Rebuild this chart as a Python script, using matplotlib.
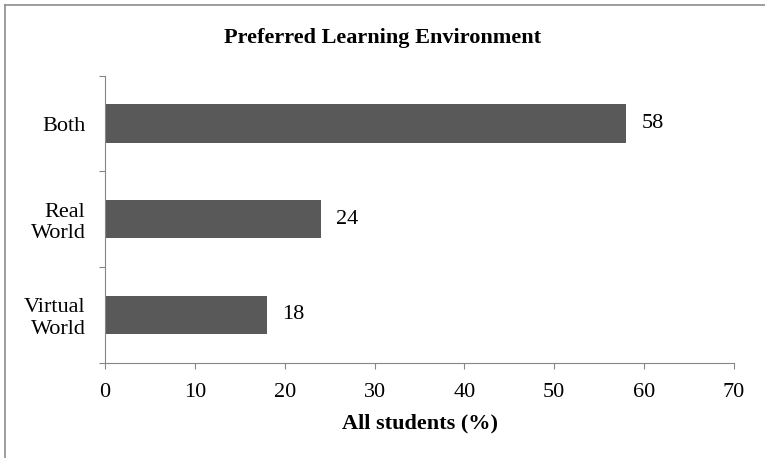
import matplotlib
matplotlib.use("Agg")
import matplotlib.pyplot as plt
from matplotlib.lines import Line2D

CATEGORIES = ["Virtual\nWorld", "Real\nWorld", "Both"]
VALUES = [18, 24, 58]
X_TICKS = [0, 10, 20, 30, 40, 50, 60, 70]

BAR_COLOR = "#595959"
AXIS_COLOR = "#868686"
W, H = 765, 458

plt.rcParams.update({
    "font.family": ["Liberation Serif", "DejaVu Serif"],
    "font.size": 16,
})

fig = plt.figure(figsize=(W / 100, H / 100), dpi=100, facecolor="white")
ax = fig.add_axes([0.1373, 0.2081, 0.8222, 0.6266])

positions = list(range(len(CATEGORIES)))
ax.barh(positions, VALUES, height=0.4, color=BAR_COLOR)
for pos, val in zip(positions, VALUES):
    ax.annotate(str(val), (val, pos), xytext=(11, 0), textcoords="offset points",
                ha="left", va="center", fontsize=16)

ax.set_xlim(0, 70)
ax.set_ylim(-0.5, len(CATEGORIES) - 0.5)
ax.set_xticks(X_TICKS)
ax.set_yticks([p + 0.5 for p in [-1] + positions])
ax.set_yticklabels([])
ax.set_yticks(positions, minor=True)
ax.set_yticklabels(CATEGORIES, minor=True, ha="right", multialignment="right")
ax.tick_params(axis="y", which="minor", length=0, pad=14)
ax.tick_params(axis="y", which="major", length=4.3, color=AXIS_COLOR, direction="out")
ax.tick_params(axis="x", length=4.3, color=AXIS_COLOR, direction="out", pad=10)

for side in ("top", "right"):
    ax.spines[side].set_visible(False)
for side in ("left", "bottom"):
    ax.spines[side].set_color(AXIS_COLOR)

ax.set_xlabel("All students (%)", fontweight="bold", fontsize=16)
ax.xaxis.label.set_va("baseline")
ax.xaxis.set_label_coords(0.5, -(428 - 362.7) / 287)
fig.text(0.5, 1 - 43 / H, "Preferred Learning Environment", ha="center", va="baseline",
         fontweight="bold", fontsize=16)

# chart frame, only top and left edges fall inside the picture
fig.add_artist(Line2D([4.5 / W, 1.0], [1 - 4.5 / H, 1 - 4.5 / H], transform=fig.transFigure,
                      color="#8c8c8c", linewidth=1.2))
fig.add_artist(Line2D([4.5 / W, 4.5 / W], [0.0, 1 - 4.5 / H], transform=fig.transFigure,
                      color="#8c8c8c", linewidth=1.2))

fig.savefig("out.png", dpi=100, facecolor="white")
